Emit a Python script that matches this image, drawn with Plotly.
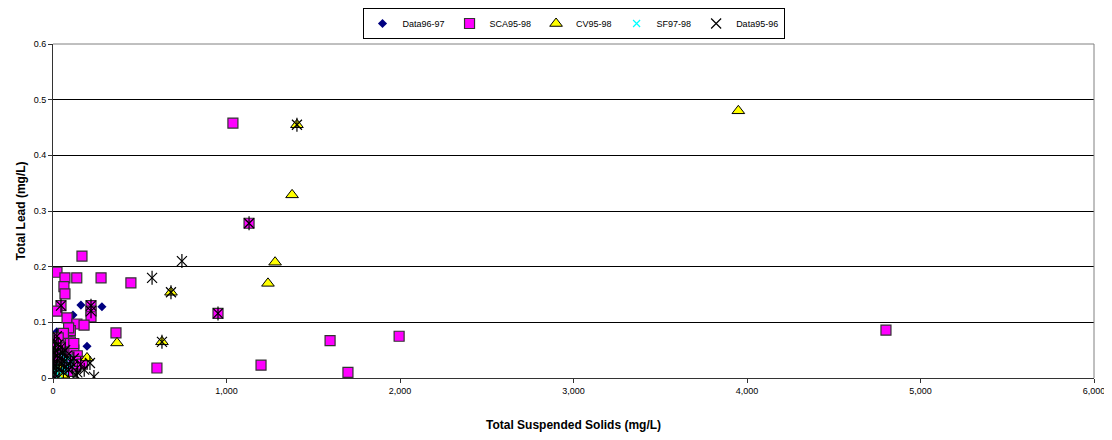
import plotly.graph_objects as go

# ---- Data ----
d9697_x = [5, 8, 12, 15, 18, 20, 22, 25, 28, 30, 33, 35, 38, 40, 45, 50, 55, 60, 65, 70, 80, 90, 100, 115, 161, 196, 282, 23, 30, 12, 42, 75]
d9697_y = [0.01, 0.02, 0.035, 0.005, 0.05, 0.03, 0.083, 0.06, 0.015, 0.045, 0.08, 0.025, 0.07, 0.04, 0.055, 0.02, 0.065, 0.035, 0.03, 0.05, 0.04, 0.045, 0.03, 0.113, 0.131, 0.057, 0.128, 0.075, 0.012, 0.06, 0.078, 0.068]

sca_x = [1037, 1130, 951, 599, 1199, 1597, 1995, 1700, 4801, 167, 23, 69, 137, 277, 449, 63, 69, 46, 23, 219, 219, 219, 81, 138, 179, 363,
         10, 15, 20, 25, 30, 35, 40, 45, 50, 55, 60, 65, 70, 75, 80, 90, 95, 100, 110, 120, 130, 140, 150, 170, 100, 90, 60, 30, 120, 85]
sca_y = [0.458, 0.278, 0.116, 0.018, 0.023, 0.067, 0.075, 0.01, 0.086, 0.219, 0.19, 0.18, 0.18, 0.18, 0.171, 0.164, 0.151, 0.13, 0.12, 0.13, 0.12, 0.11, 0.108, 0.097, 0.095, 0.081,
         0.005, 0.02, 0.04, 0.06, 0.01, 0.03, 0.05, 0.07, 0.02, 0.04, 0.06, 0.015, 0.035, 0.055, 0.075, 0.025, 0.045, 0.065, 0.03, 0.05, 0.02, 0.04, 0.03, 0.025, 0.085, 0.09, 0.08, 0.072, 0.062, 0.012]

cv_x = [3950, 1406, 1378, 1280, 1239, 680, 628, 369, 196, 20, 40, 60]
cv_y = [0.48, 0.455, 0.329, 0.208, 0.17, 0.154, 0.065, 0.063, 0.036, 0.01, 0.02, 0.005]

sf_x = [20, 45, 65, 80, 30, 100, 55, 10, 70, 90]
sf_y = [0.01, 0.015, 0.03, 0.02, 0.005, 0.025, 0.04, 0.02, 0.012, 0.035]

d9596_x = [1406, 1130, 743, 571, 680, 951, 628, 133, 236, 213, 46, 219, 219,
           5, 10, 15, 20, 25, 30, 35, 40, 45, 50, 55, 60, 65, 70, 75, 80, 90, 100, 110, 120, 140, 160, 180, 8, 12, 22, 4, 2]
d9596_y = [0.455, 0.278, 0.21, 0.18, 0.154, 0.116, 0.065, 0.005, 0.002, 0.027, 0.13, 0.13, 0.12,
           0.01, 0.03, 0.05, 0.02, 0.04, 0.06, 0.015, 0.035, 0.055, 0.025, 0.045, 0.01, 0.03, 0.05, 0.02, 0.04, 0.015, 0.03, 0.02, 0.035, 0.01, 0.025, 0.015, 0.065, 0.0, 0.075, 0.045, 0.02]

x_ticks = [0, 1000, 2000, 3000, 4000, 5000, 6000]
y_ticks = [0, 0.1, 0.2, 0.3, 0.4, 0.5, 0.6]
y_tick_text = ["0", "0.1", "0.2", "0.3", "0.4", "0.5", "0.6"]

FONT = "Arial, Liberation Sans, sans-serif"

fig = go.Figure()
fig.add_trace(go.Scatter(x=d9697_x, y=d9697_y, mode="markers", name="Data96-97",
                         marker=dict(symbol="diamond", size=7, color="#000080", line=dict(width=0))))
fig.add_trace(go.Scatter(x=sca_x, y=sca_y, mode="markers", name="SCA95-98",
                         marker=dict(symbol="square", size=10, color="#FF00FF", line=dict(width=1.2, color="#333333"))))
fig.add_trace(go.Scatter(x=cv_x, y=cv_y, mode="markers", name="CV95-98",
                         marker=dict(symbol="triangle-up", size=11, color="#FFFF00", line=dict(width=1, color="#000000"))))
fig.add_trace(go.Scatter(x=sf_x, y=sf_y, mode="markers", name="SF97-98",
                         marker=dict(symbol="x-thin-open", size=7, color="#00FFFF", line=dict(width=1.2, color="#00FFFF"))))
fig.add_trace(go.Scatter(x=d9596_x, y=d9596_y, mode="markers", name="Data95-96", legendgroup="d9596",
                         marker=dict(symbol="x-thin-open", size=10, color="#000000", line=dict(width=1.2, color="#000000"))))
fig.add_trace(go.Scatter(x=d9596_x, y=d9596_y, mode="markers", name="Data95-96", legendgroup="d9596", showlegend=False,
                         marker=dict(symbol="line-ns-open", size=10, color="#000000", line=dict(width=1.2, color="#000000"))))

# the page body adds an 8px offset, so the figure is sized to fit inside the window
fig.update_layout(
    width=1104, height=432,
    margin=dict(l=45, r=18, t=36, b=62, autoexpand=False),
    paper_bgcolor="white", plot_bgcolor="white",
    font=dict(family=FONT, size=9, color="#000000"),
    showlegend=True,
    legend=dict(orientation="h", x=0.5, xanchor="center", y=1.0, yanchor="top", yref="container",
                bordercolor="#000000", borderwidth=1, bgcolor="white",
                font=dict(family=FONT, size=9), itemwidth=30, tracegroupgap=0),
    xaxis=dict(range=[0, 6000], tickvals=x_ticks, tickformat=",", showgrid=False, zeroline=False, automargin=False,
               showline=True, linecolor="#333333", linewidth=1, ticks="outside", ticklen=4, tickcolor="#333333",
               tickfont=dict(size=9, family=FONT),
               title=dict(text="<b>Total Suspended Solids (mg/L)</b>", font=dict(size=12, family=FONT), standoff=25)),
    yaxis=dict(range=[0, 0.6], tickvals=y_ticks, ticktext=y_tick_text, automargin=False,
               showgrid=True, gridcolor="#000000", gridwidth=1, zeroline=False,
               showline=True, linecolor="#333333", linewidth=1, ticks="outside", ticklen=4, tickcolor="#333333",
               tickfont=dict(size=9, family=FONT),
               title=dict(text="<b>Total Lead (mg/L)</b>", font=dict(size=12, family=FONT), standoff=5)),
)
# plot-area border on top and right (gray)
fig.add_shape(type="line", xref="paper", yref="paper", x0=0, x1=1, y0=1, y1=1, line=dict(color="#808080", width=1))
fig.add_shape(type="line", xref="paper", yref="paper", x0=1, x1=1, y0=0, y1=1, line=dict(color="#808080", width=1))

fig.write_html("out.html")
